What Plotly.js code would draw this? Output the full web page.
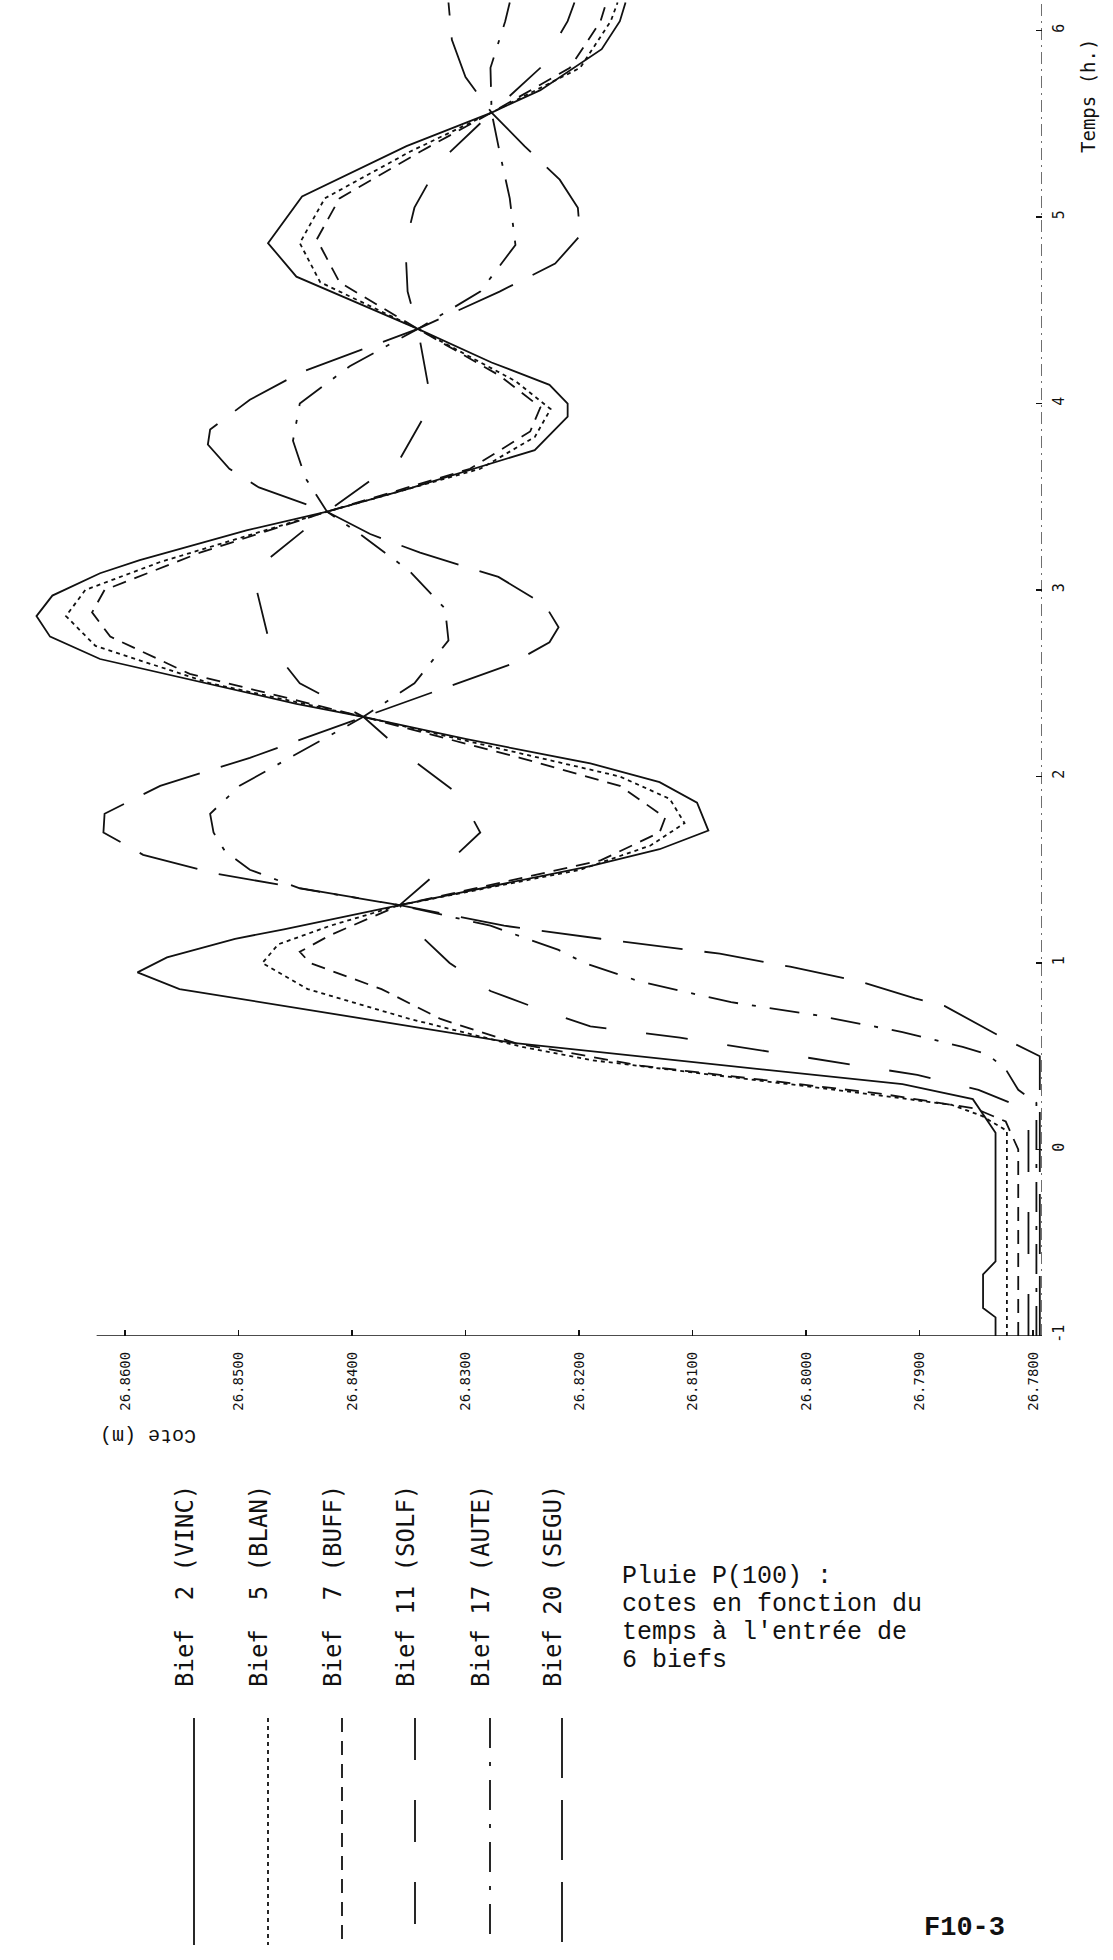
<!DOCTYPE html>
<html>
<head>
<meta charset="utf-8">
<script src="https://cdn.plot.ly/plotly-3.0.1.min.js"></script>
<style>
html,body{margin:0;padding:0;background:#fff;}
#chart{width:1113px;height:1960px;}
</style>
</head>
<body>
<div id="chart"></div>
<script>
// ---------------- DATA ----------------
const biefLabels = ["Bief  2 (VINC)", "Bief  5 (BLAN)", "Bief  7 (BUFF)", "Bief 11 (SOLF)", "Bief 17 (AUTE)", "Bief 20 (SEGU)"];

const coteTicks = [26.78, 26.79, 26.80, 26.81, 26.82, 26.83, 26.84, 26.85, 26.86];
const coteTickText = ["26.7800", "26.7900", "26.8000", "26.8100", "26.8200", "26.8300", "26.8400", "26.8500", "26.8600"];
const timeTicks = [-1, 0, 1, 2, 3, 4, 5, 6];
const timeTickText = ["-1", "0", "1", "2", "3", "4", "5", "6"];

// Bief 2 (VINC)
const tVINC = [-1, -0.9, -0.85, -0.67, -0.6, 0.09, 0.27, 0.35, 0.57, 0.86, 0.95, 1.03, 1.13, 1.18, 1.31, 1.52, 1.61, 1.71, 1.86, 1.97, 2.07, 2.2, 2.32, 2.39, 2.63, 2.75, 2.86, 2.97, 3.09, 3.16, 3.32, 3.42, 3.54, 3.64, 3.75, 3.93, 4.0, 4.1, 4.22, 4.4, 4.68, 4.86, 5.11, 5.38, 5.56, 5.68, 5.9, 6.05, 6.15];
const cVINC = [26.7833, 26.7833, 26.7844, 26.7844, 26.7833, 26.7833, 26.7853, 26.7915, 26.8256, 26.8552, 26.8589, 26.8563, 26.8503, 26.8460, 26.8358, 26.8190, 26.8129, 26.8086, 26.8096, 26.8129, 26.8190, 26.8299, 26.8390, 26.8449, 26.8622, 26.8666, 26.8678, 26.8664, 26.8622, 26.8587, 26.8493, 26.8422, 26.8352, 26.8299, 26.8239, 26.8210, 26.8210, 26.8226, 26.8277, 26.8342, 26.8449, 26.8474, 26.8444, 26.8352, 26.8277, 26.8234, 26.8180, 26.8164, 26.8159];

// Bief 5 (BLAN)
const tBLAN = [-1, 0.1, 0.18, 0.24, 0.32, 0.48, 0.55, 0.7, 0.86, 1.0, 1.1, 1.2, 1.31, 1.5, 1.63, 1.75, 1.88, 2.0, 2.15, 2.32, 2.5, 2.7, 2.86, 3.0, 3.15, 3.42, 3.65, 3.82, 3.97, 4.12, 4.4, 4.65, 4.86, 5.1, 5.35, 5.56, 5.8, 6.05, 6.15];
const cBLAN = [26.7823, 26.7823, 26.7845, 26.7872, 26.7974, 26.8190, 26.8250, 26.8349, 26.8439, 26.8479, 26.8465, 26.8419, 26.8358, 26.8199, 26.8137, 26.8107, 26.8120, 26.8164, 26.8270, 26.8390, 26.8525, 26.8626, 26.8652, 26.8635, 26.8569, 26.8422, 26.8287, 26.8239, 26.8225, 26.8256, 26.8342, 26.8428, 26.8446, 26.8424, 26.8349, 26.8277, 26.8199, 26.8172, 26.8166];

// Bief 7 (BUFF)
const tBUFF = [-1, 0.0, 0.15, 0.22, 0.3, 0.45, 0.57, 0.7, 0.86, 1.0, 1.06, 1.15, 1.31, 1.55, 1.7, 1.78, 1.95, 2.1, 2.32, 2.55, 2.75, 2.88, 3.0, 3.2, 3.42, 3.65, 3.85, 3.98, 4.15, 4.4, 4.65, 4.88, 5.1, 5.35, 5.56, 5.8, 6.05, 6.15];
const cBUFF = [26.7813, 26.7813, 26.7824, 26.7851, 26.7935, 26.8146, 26.8256, 26.8322, 26.8374, 26.8437, 26.8446, 26.8419, 26.8358, 26.8181, 26.8129, 26.8124, 26.8164, 26.8252, 26.8390, 26.8543, 26.8613, 26.8629, 26.8618, 26.8534, 26.8422, 26.8296, 26.8243, 26.8234, 26.8270, 26.8342, 26.8411, 26.8431, 26.8411, 26.8340, 26.8277, 26.8208, 26.8181, 26.8176];

// Bief 11 (SOLF)
const tSOLF = [-1, 0.2, 0.25, 0.32, 0.4, 0.5, 0.6, 0.66, 0.75, 0.85, 1.0, 1.15, 1.31, 1.5, 1.7, 1.9, 2.1, 2.32, 2.5, 2.7, 3.0, 3.15, 3.42, 3.7, 4.0, 4.2, 4.4, 4.6, 4.85, 5.05, 5.3, 5.56, 5.8, 6.05, 6.15];
const cSOLF = [26.7804, 26.7804, 26.7820, 26.7848, 26.7902, 26.8005, 26.8111, 26.8190, 26.8234, 26.8278, 26.8314, 26.8340, 26.8358, 26.8322, 26.8287, 26.8305, 26.8349, 26.8390, 26.8446, 26.8472, 26.8484, 26.8477, 26.8422, 26.8358, 26.8330, 26.8336, 26.8342, 26.8351, 26.8353, 26.8345, 26.8322, 26.8277, 26.8234, 26.8210, 26.8204];

// Bief 17 (AUTE)
const tAUTE = [-1, 0.25, 0.32, 0.43, 0.51, 0.55, 0.63, 0.72, 0.79, 0.9, 1.0, 1.07, 1.2, 1.31, 1.4, 1.5, 1.6, 1.7, 1.8, 1.95, 2.1, 2.32, 2.5, 2.73, 2.9, 3.1, 3.3, 3.42, 3.6, 3.8, 4.0, 4.2, 4.4, 4.6, 4.85, 5.1, 5.35, 5.56, 5.8, 6.05, 6.15];
const cAUTE = [26.7797, 26.7797, 26.7813, 26.7824, 26.7840, 26.7862, 26.7915, 26.7991, 26.8066, 26.8146, 26.8195, 26.8218, 26.8278, 26.8358, 26.8446, 26.8490, 26.8512, 26.8522, 26.8525, 26.8499, 26.8455, 26.8390, 26.8345, 26.8315, 26.8318, 26.8349, 26.8393, 26.8422, 26.8441, 26.8452, 26.8446, 26.8402, 26.8342, 26.8287, 26.8256, 26.8261, 26.8270, 26.8277, 26.8278, 26.8265, 26.8261];

// Bief 20 (SEGU)
const tSEGU = [-1, 0.5, 0.59, 0.68, 0.77, 0.81, 0.9, 0.98, 1.05, 1.13, 1.2, 1.31, 1.4, 1.48, 1.58, 1.7, 1.8, 1.95, 2.1, 2.32, 2.45, 2.6, 2.72, 2.8, 2.92, 3.07, 3.2, 3.3, 3.42, 3.55, 3.65, 3.78, 3.86, 4.02, 4.17, 4.4, 4.6, 4.75, 4.9, 5.05, 5.2, 5.38, 5.56, 5.75, 5.95, 6.15];
const cSEGU = [26.7794, 26.7794, 26.7824, 26.7851, 26.7878, 26.7904, 26.7952, 26.8014, 26.8076, 26.8181, 26.8266, 26.8358, 26.8446, 26.8521, 26.8584, 26.8619, 26.8618, 26.8569, 26.8490, 26.8390, 26.8331, 26.8261, 26.8226, 26.8218, 26.8230, 26.8271, 26.8340, 26.8384, 26.8422, 26.8482, 26.8508, 26.8527, 26.8525, 26.8490, 26.8444, 26.8342, 26.8270, 26.8221, 26.8199, 26.8201, 26.8217, 26.8248, 26.8277, 26.8300, 26.8312, 26.8315];

const captionLines = ["Pluie P(100) :", "cotes en fonction du", "temps à l'entrée de", "6 biefs"];
const figureId = "F10-3";
const coteTitle = "Cote (m)";
const timeTitle = "Temps (h.)";

// ---------------- STYLE / LAYOUT ----------------
const W = 1113, H = 1960;
const PL = 10, PR = 1042, PT = 0, PB = 1336;        // plot area in pixels
const INK = "#111";
const dashes = ["solid", "4px,4px", "14px,9px", "42px,40px", "30px,14px,4px,14px", "60px,22px"];
const series = [[tVINC, cVINC], [tBLAN, cBLAN], [tBUFF, cBUFF], [tSOLF, cSOLF], [tAUTE, cAUTE], [tSEGU, cSEGU]];

const px = x => (x - PL) / (PR - PL);
const py = y => (PB - y) / (PB - PT);

const xPerPx = 0.01 / 113.5;
const xLeft = 26.86 + (125 - PL) * xPerPx;
const xRight = 26.86 - (PR - 125) * xPerPx;
const tPerPx = 1 / 186.5;
const yBottom = -1;
const yTop = -1 + (PB - PT) * tPerPx;

const plotter = "DejaVu Sans Mono, Liberation Mono, monospace";
const mono = "Liberation Mono, DejaVu Sans Mono, monospace";

const traces = series.map((s, i) => ({
  type: "scatter", mode: "lines",
  x: s[1], y: s[0],
  name: biefLabels[i],
  line: {color: INK, width: 1.8, dash: dashes[i]},
  showlegend: false, hoverinfo: "skip"
}));

const shapes = [];
const annotations = [];

// Cote axis line (bottom)
shapes.push({type: "line", xref: "x", yref: "y", x0: 26.8625, x1: xRight, y0: -1, y1: -1,
  line: {color: INK, width: 1.4}});
// Time axis line (right)
shapes.push({type: "line", xref: "x", yref: "y", x0: xRight, x1: xRight, y0: -1, y1: yTop,
  line: {color: INK, width: 1.2, dash: "12px,5px,2px,5px"}});

// Legend (vertical samples + rotated texts)
const legLineX = [194, 268, 342, 415, 490, 562];
biefLabels.forEach((lab, i) => {
  shapes.push({type: "line", xref: "paper", yref: "paper",
    x0: px(legLineX[i]), x1: px(legLineX[i]), y0: py(1718), y1: py(1945),
    line: {color: INK, width: 1.8, dash: dashes[i]}});
  annotations.push({xref: "paper", yref: "paper", x: px(legLineX[i] - 9), y: py(1586),
    text: lab, showarrow: false, textangle: -90, xanchor: "center", yanchor: "middle",
    font: {family: plotter, size: 24, color: INK}});
});

// Axis titles
annotations.push({xref: "paper", yref: "paper", x: px(1088), y: py(96), text: timeTitle,
  showarrow: false, textangle: -90, xanchor: "center", yanchor: "middle",
  font: {family: plotter, size: 19, color: INK}});
annotations.push({xref: "paper", yref: "paper", x: px(148), y: py(1436), text: coteTitle,
  showarrow: false, textangle: 180, xanchor: "center", yanchor: "middle",
  font: {family: mono, size: 20, color: INK}});

// Caption
const capY = [1576, 1604, 1632, 1660];
captionLines.forEach((ln, i) => {
  annotations.push({xref: "paper", yref: "paper", x: px(620), y: py(capY[i]), text: ln,
    showarrow: false, xanchor: "left", yanchor: "middle",
    font: {family: mono, size: 25, color: INK}});
});
annotations.push({xref: "paper", yref: "paper", x: px(922), y: py(1928), text: figureId,
  showarrow: false, xanchor: "left", yanchor: "middle",
  font: {family: mono, size: 27, color: INK, weight: "bold"}});

const layout = {
  width: W, height: H,
  margin: {l: PL, r: W - PR, t: PT, b: H - PB, pad: 0},
  paper_bgcolor: "#fff", plot_bgcolor: "#fff",
  showlegend: false,
  xaxis: {
    range: [xLeft, xRight], showgrid: false, zeroline: false, showline: false,
    tickmode: "array", tickvals: coteTicks, ticktext: coteTickText,
    ticks: "inside", ticklen: 6, tickcolor: INK, tickwidth: 1.2,
    tickangle: -90, ticklabelstandoff: 12,
    tickfont: {family: plotter, size: 14, color: INK}
  },
  yaxis: {
    range: [yBottom, yTop], side: "right", showgrid: false, zeroline: false, showline: false,
    tickmode: "array", tickvals: timeTicks, ticktext: timeTickText,
    ticks: "inside", ticklen: 6, tickcolor: INK, tickwidth: 1.2,
    tickangle: -90, ticklabelstandoff: 6,
    tickfont: {family: plotter, size: 15, color: INK}
  },
  shapes: shapes,
  annotations: annotations
};

Plotly.newPlot("chart", traces, layout, {displayModeBar: false, staticPlot: true});
</script>
</body>
</html>
